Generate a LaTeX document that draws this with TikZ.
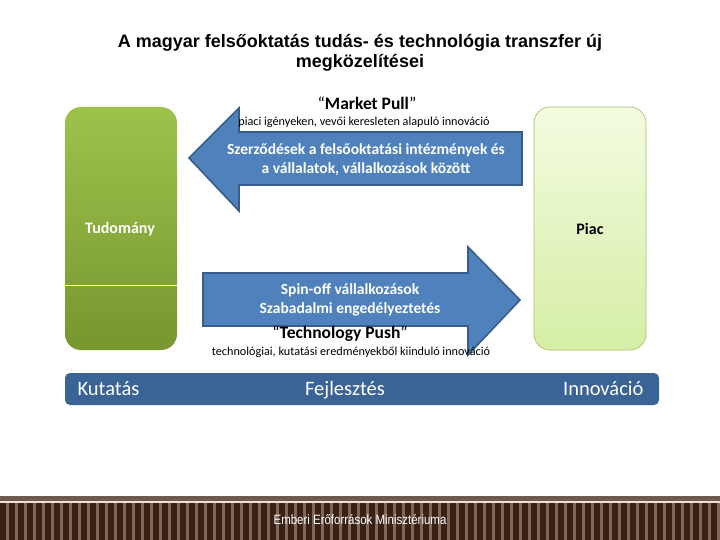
\documentclass[tikz,border=0pt]{standalone}
\usepackage{fontspec}
\setmainfont{Carlito}
\newfontfamily\arialfont{Liberation Sans}
\newfontfamily\narrowfont[FakeStretch=0.85]{Liberation Sans}
\definecolor{arrowblue}{HTML}{4F81BD}
\definecolor{arrowedge}{HTML}{385D8A}
\definecolor{barblue}{HTML}{3B6496}
\definecolor{greentop}{HTML}{9DC34C}
\definecolor{greenbot}{HTML}{77962F}
\definecolor{lighttop}{HTML}{F3FBE0}
\definecolor{lightbot}{HTML}{D6EEA6}
\definecolor{lightedge}{HTML}{A9C26E}
\definecolor{footdark}{HTML}{3A2116}
\definecolor{footlight}{HTML}{7E685A}
\definecolor{footline}{HTML}{6E5A50}
\definecolor{footcream}{HTML}{EDE2D0}
\tikzset{
  bigarrow/.style={fill=arrowblue, draw=arrowedge, line width=1.6pt, line join=miter},
  arrowtext/.style={text=white, font=\fontsize{15.5}{19}\selectfont\bfseries, align=center},
  captext/.style={font=\fontsize{12.2}{14}\selectfont, text=black},
  headtext/.style={font=\fontsize{17.5}{20}\selectfont, text=black},
  bartext/.style={text=white, font=\fontsize{20.5}{24}\selectfont, anchor=base},
  sidetext/.style={font=\fontsize{16}{18}\selectfont\bfseries},
}
\begin{document}
\begin{tikzpicture}[x=1pt,y=-1pt]
\useasboundingbox (0,0) rectangle (720,540);
\fill[white] (0,0) rectangle (720,540);

% title
\node[font=\arialfont\fontsize{18}{19.5}\selectfont\bfseries, align=center] (title) at (360,53)
  {A magyar felsőoktatás tudás- és technológia transzfer új\\megközelítései};

% side boxes
\shade[top color=greentop, bottom color=greenbot, rounded corners=16pt]
  (65,107) rectangle (177,350);
\draw[white, line width=0.8pt] (65,285) -- (177,285);
\node[sidetext, text=white] (tud) at (120,229) {Tudomány};

\shade[top color=lighttop, bottom color=lightbot, rounded corners=16pt]
  (534,107) rectangle (646,350);
\draw[lightedge, line width=0.7pt, rounded corners=16pt] (534,107) rectangle (646,350);
\node[sidetext, text=black] (piac) at (590,229) {Piac};

% Market Pull arrow
\draw[bigarrow] (522,132) -- (239,132) -- (239,108) -- (189,158) -- (239,211) -- (239,185) -- (522,185) -- cycle;
\node[arrowtext] (szerz) at (366,160) {Szerződések a felsőoktatási intézmények és\\a vállalatok, vállalkozások között};
\node[headtext] (mp) at (367,103) {“\textbf{Market Pull}”};
\node[captext] (mpc) at (364,122) {piaci igényeken, vevői keresleten alapuló innováció};

% Technology Push arrow
\draw[bigarrow] (203,273) -- (468,273) -- (468,247) -- (520,300) -- (468,355) -- (468,326) -- (203,326) -- cycle;
\node[arrowtext] (spin) at (350,299.5) {Spin-off vállalkozások\\Szabadalmi engedélyeztetés};
\node[headtext] (tp) at (340,334) {“\textbf{Technology Push}”};
\node[captext] (tpc) at (351,352) {technológiai, kutatási eredményekből kiinduló innováció};

% bottom bar
\fill[barblue, rounded corners=5pt] (65,373) rectangle (659,405);
\node[bartext, anchor=base west] (kut) at (74,395) {Kutatás};
\node[bartext] (fej) at (345,395) {Fejlesztés};
\node[bartext, anchor=base east] (inn) at (647,395) {Innováció};

% footer
\fill[footline] (0,496) rectangle (720,501);
\fill[footcream] (0,501) rectangle (720,503);
\fill[footlight] (0,503) rectangle (720,540);
\foreach \i in {0,...,80} {
  \fill[footdark] (\i*9,503) rectangle ++(5.5,37);
}
\node[text=white, font=\narrowfont\fontsize{13.5}{15}\selectfont] (foot) at (360,520) {Emberi Erőforrások Minisztériuma};
\end{tikzpicture}
\end{document}
